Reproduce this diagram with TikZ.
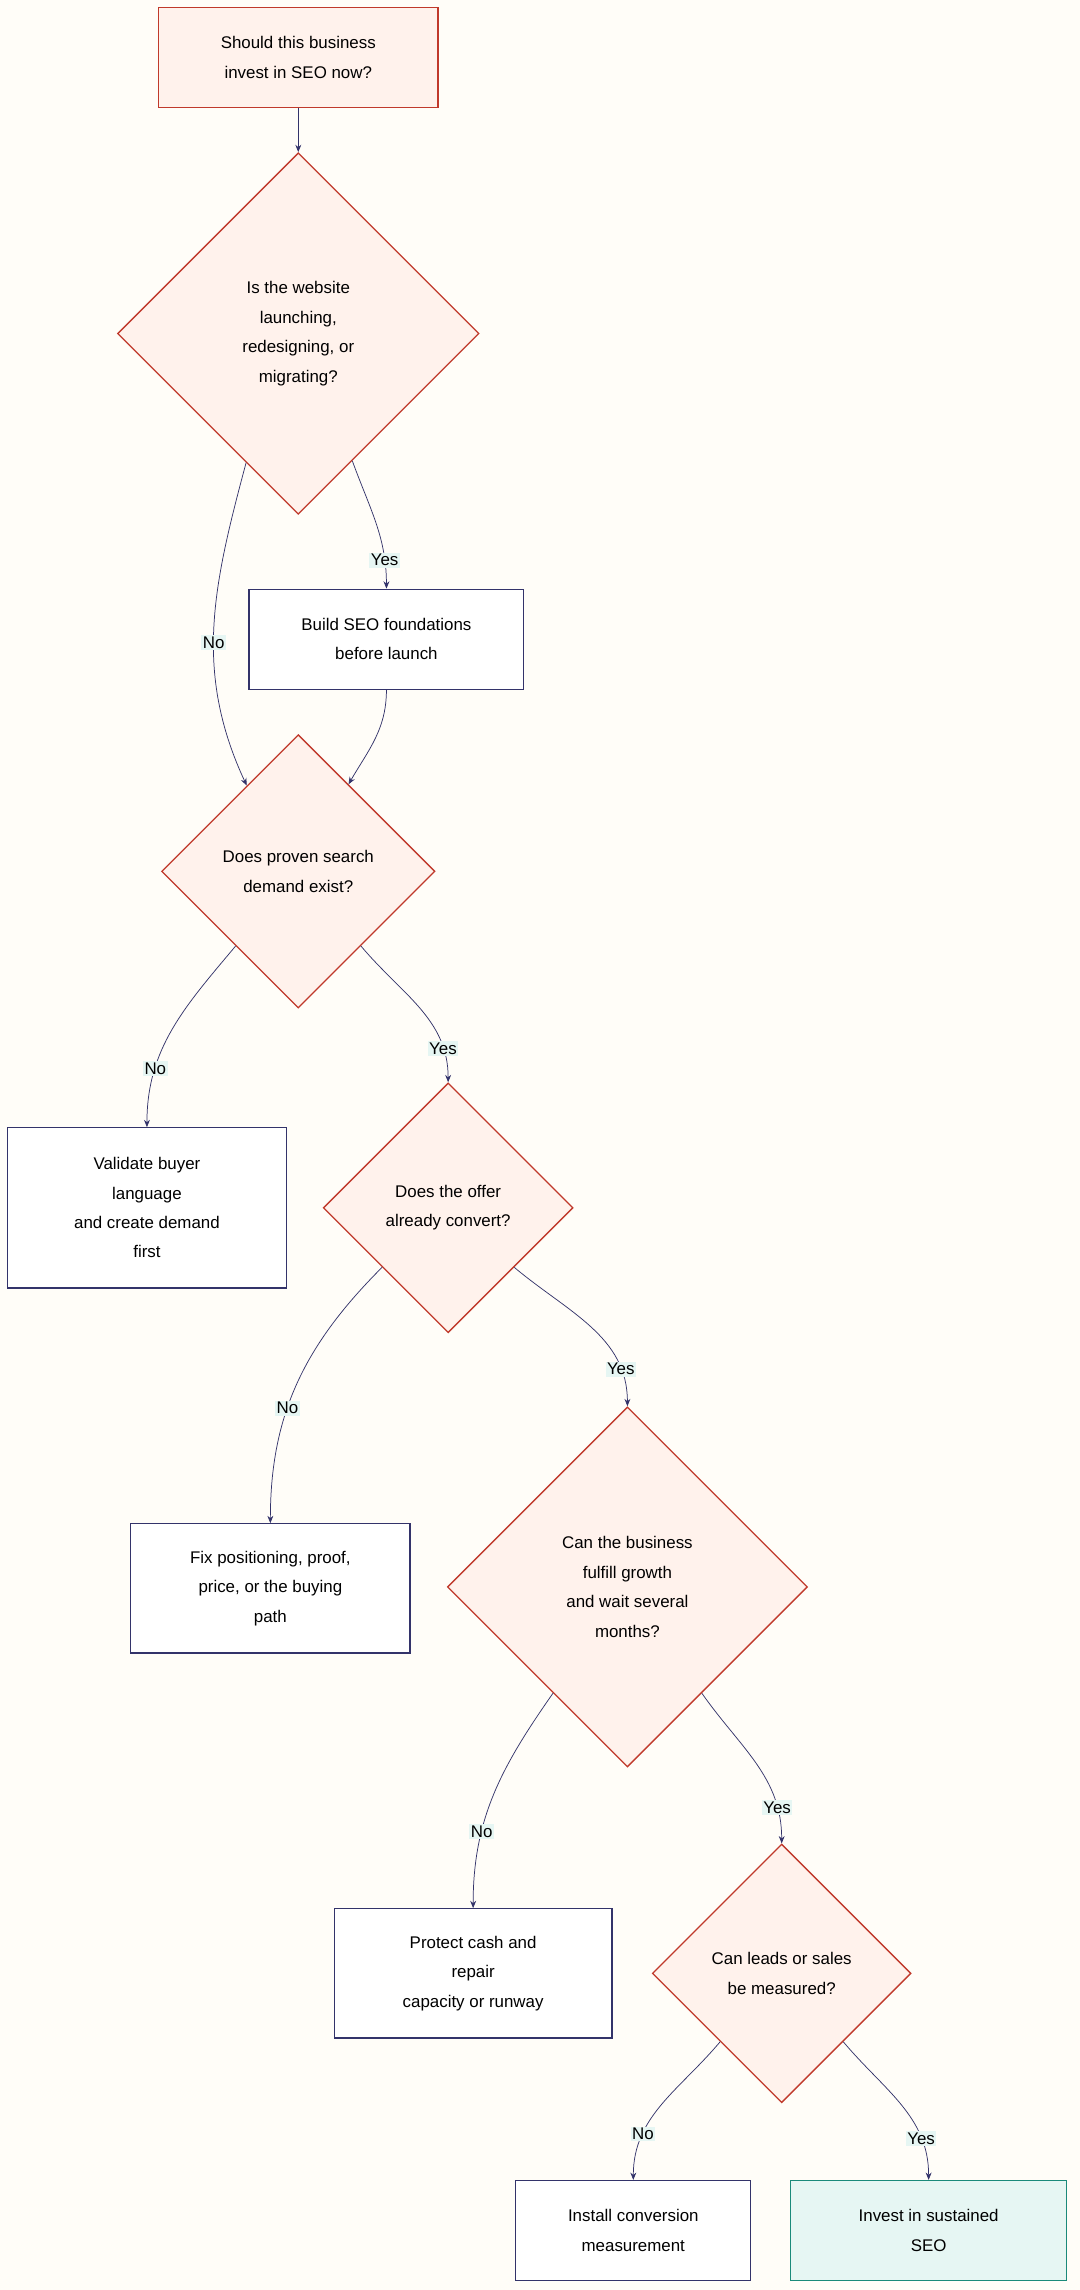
\documentclass[tikz,border=0pt]{standalone}
\usepackage{fontspec}
\setmainfont{Liberation Sans}
\usetikzlibrary{shapes.geometric,arrows.meta}
\definecolor{bg}{HTML}{FFFDF8}
\definecolor{dfill}{HTML}{FFF2EC}
\definecolor{dline}{HTML}{C0392B}
\definecolor{navy}{HTML}{33336A}
\definecolor{efill}{HTML}{E6F6F3}
\definecolor{tline}{HTML}{1A8A7A}
\begin{document}
\begin{tikzpicture}[x=1pt,y=1pt,
  every node/.style={font=\fontsize{11.5}{20}\selectfont},
  dec/.style={diamond,shape aspect=1,draw=dline,fill=dfill,line width=0.9pt,inner sep=0pt,align=center},
  box/.style={rectangle,draw=navy,fill=white,line width=0.8pt,align=center,inner sep=0pt},
  rbox/.style={rectangle,draw=dline,fill=dfill,line width=0.9pt,align=center,inner sep=0pt},
  ok/.style={rectangle,draw=tline,fill=efill,line width=0.9pt,align=center,inner sep=0pt},
  e/.style={draw=navy,line width=0.5pt,-{Stealth[length=5pt,width=4pt]}},
  lab/.style={fill=efill,inner sep=1pt,font=\fontsize{11.5}{14}\selectfont}]
\fill[bg] (0,0) rectangle (735,-1558.5);
\useasboundingbox (0,0) rectangle (735,-1558.5);
\node[rbox,minimum width=190,minimum height=68] (s) at (203,-39) {Should this business\\invest in SEO now?};
\node[dec,minimum size=246] (d1) at (203,-227) {Is the website\\launching,\\redesigning, or\\migrating?};
\node[box,minimum width=187,minimum height=68] (b1) at (263,-435) {Build SEO foundations\\before launch};
\node[dec,minimum size=186] (d2) at (203,-593) {Does proven search\\demand exist?};
\node[box,minimum width=190,minimum height=109] (v) at (100,-822) {Validate buyer\\language\\and create demand\\first};
\node[dec,minimum size=170] (d3) at (305,-822) {Does the offer\\already convert?};
\node[box,minimum width=190,minimum height=88] (f) at (184,-1081) {Fix positioning, proof,\\price, or the buying\\path};
\node[dec,minimum size=245] (d4) at (427,-1080) {Can the business\\fulfill growth\\and wait several\\months?};
\node[box,minimum width=189,minimum height=88] (p) at (322,-1343) {Protect cash and\\repair\\capacity or runway};
\node[dec,minimum size=176] (d5) at (532,-1343) {Can leads or sales\\be measured?};
\node[box,minimum width=160,minimum height=68] (i) at (431,-1518) {Install conversion\\measurement};
\node[ok,minimum width=188,minimum height=68] (o) at (632,-1518) {Invest in sustained\\SEO};

\draw[e] (s) -- (d1);
\draw[e] (d1.-67) to[out=-70,in=90] node[lab,pos=0.8]{Yes} (b1.north);
\draw[e] (d1.-112) to[out=-105,in=115] node[lab,pos=0.55]{No} (d2.121);
\draw[e] (b1.south) to[out=-90,in=60] (d2.60);
\draw[e] (d2.-130) to[out=-130,in=90] node[lab,pos=0.72]{No} (v.north);
\draw[e] (d2.-50) to[out=-50,in=90] node[lab,pos=0.8]{Yes} (d3.north);
\draw[e] (d3.-138) to[out=-135,in=90] node[lab,pos=0.6]{No} (f.north);
\draw[e] (d3.-42) to[out=-40,in=90] node[lab,pos=0.8]{Yes} (d4.north);
\draw[e] (d4.-125) to[out=-125,in=90] node[lab,pos=0.68]{No} (p.north);
\draw[e] (d4.-55) to[out=-55,in=90] node[lab,pos=0.8]{Yes} (d5.north);
\draw[e] (d5.-132) to[out=-130,in=90] node[lab,pos=0.72]{No} (i.north);
\draw[e] (d5.-48) to[out=-50,in=90] node[lab,pos=0.75]{Yes} (o.north);
\end{tikzpicture}
\end{document}
